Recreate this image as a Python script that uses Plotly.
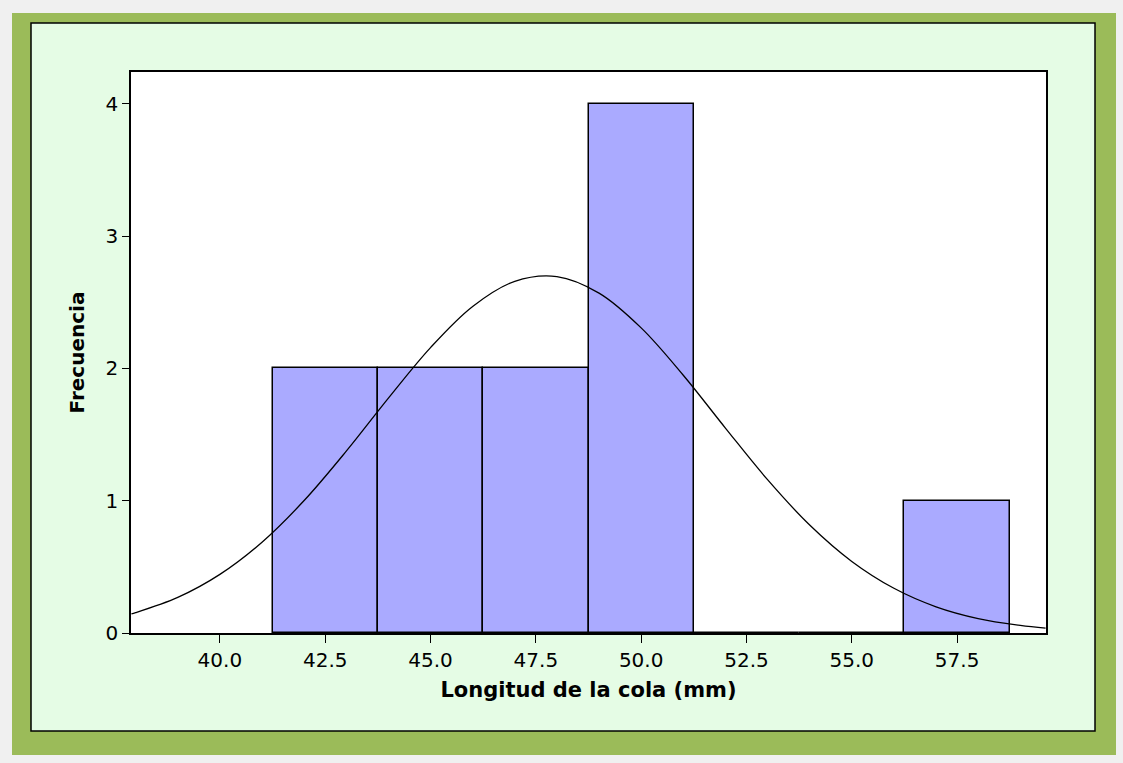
import plotly.graph_objects as go

# Data
bin_centers = [42.5, 45.0, 47.5, 50.0, 52.5, 55.0, 57.5]
bin_counts = [2, 2, 2, 4, 0, 0, 1]
bin_width = 2.5

curve_x = [37.9, 38, 39, 40, 41, 42, 43, 44, 45, 46, 47, 48, 49, 50, 51, 52,
           53, 54, 55, 56, 57, 58, 59, 59.6]
curve_y = [0.145, 0.154, 0.269, 0.443, 0.686, 1.001, 1.374, 1.775, 2.157, 2.468,
           2.658, 2.694, 2.569, 2.306, 1.948, 1.549, 1.159, 0.816, 0.541, 0.338,
           0.198, 0.109, 0.057, 0.037]

x_ticks = [40.0, 42.5, 45.0, 47.5, 50.0, 52.5, 55.0, 57.5]
x_ticktext = ["40.0", "42.5", "45.0", "47.5", "50.0", "52.5", "55.0", "57.5"]
y_ticks = [0, 1, 2, 3, 4]

W, H = 1123, 763
ML, MR, MT, MB = 131, 77, 72, 130
PW, PH = W - ML - MR, H - MT - MB


def px(x):
    return (x - ML) / PW


def py(y):
    return (H - MB - y) / PH


fig = go.Figure()
fig.add_trace(go.Bar(
    x=bin_centers, y=bin_counts, width=[bin_width] * len(bin_centers),
    marker=dict(color="#AAAAFF", line=dict(color="black", width=1.5)),
    hoverinfo="skip", showlegend=False,
))
fig.add_trace(go.Scatter(
    x=curve_x, y=curve_y, mode="lines", line=dict(color="black", width=1.3, shape="spline"),
    hoverinfo="skip", showlegend=False,
))

shapes = [
    dict(type="rect", xref="paper", yref="paper", x0=px(12), x1=px(1116), y0=py(13), y1=py(755),
         fillcolor="#9BBB59", line=dict(width=0), layer="below"),
    dict(type="rect", xref="paper", yref="paper", x0=px(31), x1=px(1095), y0=py(23), y1=py(731),
         fillcolor="#E5FCE5", line=dict(color="black", width=1.5), layer="below"),
    dict(type="rect", xref="paper", yref="paper", x0=0, x1=1, y0=0, y1=1,
         fillcolor="white", line=dict(width=0), layer="below"),
]

font_family = "DejaVu Sans, Verdana, sans-serif"

fig.update_layout(
    width=W, height=H,
    margin=dict(l=ML, r=MR, t=MT, b=MB),
    paper_bgcolor="#F0F0F0", plot_bgcolor="white",
    shapes=shapes,
    bargap=0,
    font=dict(family=font_family, color="black"),
    xaxis=dict(
        range=[37.89, 59.61], tickvals=x_ticks, ticktext=x_ticktext,
        showgrid=False, zeroline=False, showline=True, linecolor="black", linewidth=1.5,
        mirror=True, ticks="outside", ticklen=8, tickcolor="black", tickwidth=1.2,
        tickfont=dict(size=20, family=font_family),
        title=dict(text="<b>Longitud de la cola (mm)</b>", font=dict(size=21, family=font_family),
                   standoff=12),
    ),
    yaxis=dict(
        range=[0, 4.24], tickvals=y_ticks,
        showgrid=False, zeroline=False, showline=True, linecolor="black", linewidth=1.5,
        mirror=True, ticks="outside", ticklen=7, tickcolor="black", tickwidth=1.2,
        tickfont=dict(size=20, family=font_family),
        title=dict(text="<b>Frecuencia</b>", font=dict(size=20, family=font_family),
                   standoff=16),
    ),
)

fig.write_html("out.html")
